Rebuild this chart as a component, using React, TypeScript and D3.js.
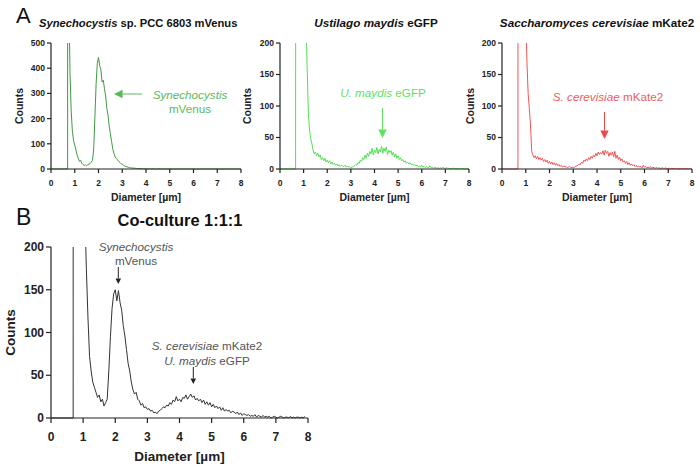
import React from "react";
import * as d3 from "d3";

// histogram bins: first bin centre and bin width, in µm
const binStart = 0.7;
const binStep = 0.05;
const diameterTicks = [0, 1, 2, 3, 4, 5, 6, 7, 8];
const countTicksA1 = [0, 100, 200, 300, 400, 500];
const countTicksSmall = [0, 50, 100, 150, 200];

// counts per bin (bins 0.70, 0.75, ... µm)
const synechocystisCounts = [
  3000, 700, 380, 230, 150, 112, 95, 75, 55, 42,
  30, 34, 22, 17, 14, 16, 13, 17, 19, 22,
  28, 35, 85, 210, 340, 420, 443, 410, 395, 345,
  352, 320, 290, 240, 215, 170, 140, 110, 80, 62,
  48, 42, 36, 30, 26, 21, 18, 15, 12, 10,
  9, 7, 6, 5, 4, 4, 3, 3, 2, 2,
  2, 1, 2, 1, 1, 1, 0, 1, 0, 1,
  0, 0, 1, 0, 0, 0, 0, 1, 0, 0,
  0, 0, 0, 0, 0, 0, 0, 0, 0, 0,
  0, 0, 0, 0, 0, 0, 0, 0, 0, 0,
  0, 0, 0, 0, 0, 0, 0, 0, 0, 0,
  0, 0, 0, 0, 0, 0, 0, 0, 0, 0,
  0, 0, 0, 0, 0, 0, 0, 0, 0, 0,
  0, 0, 0, 0, 0, 0, 0, 0, 0, 0,
  0, 0, 0, 0, 0, 0, 0,
];

const maydisCounts = [
  3000, 2600, 2000, 1500, 1000, 700, 450, 320, 240, 160,
  90, 62, 48, 40, 30, 24, 27, 21, 25, 19,
  22, 15, 18, 13, 17, 11, 14, 10, 13, 8,
  11, 7, 9, 6, 8, 5, 7, 4, 6, 5,
  4, 6, 3, 5, 3, 4, 2, 3, 4, 5,
  7, 6, 10, 9, 14, 12, 18, 15, 22, 17,
  25, 20, 28, 24, 33, 22, 30, 26, 34, 24,
  31, 27, 36, 25, 33, 28, 35, 23, 30, 26,
  29, 22, 27, 19, 24, 17, 21, 15, 18, 13,
  15, 11, 13, 9, 11, 8, 10, 7, 8, 6,
  7, 5, 6, 4, 5, 3, 6, 3, 4, 2,
  4, 2, 3, 5, 2, 3, 1, 3, 2, 1,
  2, 1, 2, 1, 3, 1, 1, 2, 1, 1,
  1, 0, 1, 1, 0, 1, 0, 1, 0, 1,
  0, 1, 0, 0, 1, 0, 0,
];

const cerevisiaeCounts = [
  3000, 2400, 1600, 1000, 600, 380, 240, 170, 120, 96,
  70, 28, 22, 18, 21, 16, 20, 15, 18, 14,
  17, 12, 15, 11, 14, 9, 12, 8, 11, 7,
  10, 6, 9, 5, 7, 4, 6, 3, 5, 3,
  4, 2, 3, 4, 2, 3, 2, 3, 4, 5,
  6, 8, 7, 11, 9, 14, 12, 16, 13, 18,
  15, 20, 17, 22, 19, 25, 21, 27, 23, 26,
  24, 29, 22, 30, 25, 28, 20, 26, 22, 27,
  19, 28, 17, 22, 15, 19, 13, 16, 11, 13,
  9, 12, 7, 10, 6, 8, 5, 7, 4, 6,
  3, 5, 3, 4, 2, 6, 3, 4, 2, 3,
  2, 4, 1, 3, 2, 1, 3, 1, 2, 1,
  1, 2, 1, 1, 2, 0, 1, 1, 0, 1,
  1, 0, 1, 0, 1, 0, 0, 1, 0, 1,
  0, 1, 0, 0, 1, 0, 0,
];

const cocultureCounts = [
  3000, 2500, 1800, 1200, 800, 520, 360, 250, 175, 118,
  72, 55, 42, 36, 30, 24, 27, 19, 22, 14,
  18, 22, 55, 95, 128, 145, 150, 137, 149, 135,
  126, 108, 96, 80, 64, 55, 42, 33, 28, 30,
  22, 20, 15, 17, 12, 13, 10, 11, 8, 9,
  6, 7, 5, 8, 9, 11, 13, 12, 15, 14,
  18, 16, 21, 19, 25, 20, 22, 19, 24, 23,
  27, 22, 25, 28, 24, 26, 21, 23, 20, 22,
  18, 21, 16, 19, 15, 18, 13, 16, 12, 14,
  11, 13, 9, 12, 8, 10, 8, 9, 6, 8,
  7, 5, 7, 4, 6, 3, 5, 4, 3, 4,
  2, 3, 2, 4, 1, 3, 2, 1, 3, 1,
  2, 1, 2, 0, 1, 2, 1, 0, 1, 2,
  1, 0, 1, 1, 0, 2, 0, 1, 0, 1,
  1, 0, 1, 0, 2,
];

const FONT = "'Liberation Sans', Arial, sans-serif";
const AXIS = "#222";

type PanelProps = {
  id: string;
  counts: number[];
  limit: number; // lower detection limit of the counter, µm
  color: string;
  yMax: number;
  yTicks: number[];
  left: number;
  right: number;
  top: number;
  bottom: number;
  tickFont: number;
  labelFont: number;
  tickLen: number;
  countsX: number;
  xLabelY: number;
  xTickY: number;
};

const Panel: React.FC<PanelProps> = (p) => {
  const x = d3.scaleLinear().domain([0, 8]).range([p.left, p.right]);
  const y = d3.scaleLinear().domain([0, p.yMax]).range([p.bottom, p.top]);
  const pts: [number, number][] = [[0, 0], [p.limit, 0]];
  p.counts.forEach((c, i) => pts.push([binStart + i * binStep, c]));
  const line = d3
    .line<[number, number]>()
    .x((d) => x(d[0]))
    .y((d) => y(d[1]));

  return (
    <g fontFamily={FONT}>
      <defs>
        <clipPath id={`clip-${p.id}`}>
          <rect x={p.left} y={p.top} width={p.right - p.left} height={p.bottom - p.top + 2} />
        </clipPath>
      </defs>
      <path
        d={line(pts) || ""}
        fill="none"
        stroke={p.color}
        strokeWidth={1}
        strokeLinejoin="round"
        clipPath={`url(#clip-${p.id})`}
      />
      {/* y axis */}
      <line x1={p.left} x2={p.left} y1={p.top} y2={p.bottom} stroke={AXIS} strokeWidth={1.2} />
      {p.yTicks.map((t) => (
        <g key={t}>
          <line x1={p.left - p.tickLen} x2={p.left} y1={y(t)} y2={y(t)} stroke={AXIS} strokeWidth={1.2} />
          <text
            x={p.left - p.tickLen - 2}
            y={y(t)}
            dy="0.35em"
            textAnchor="end"
            fontSize={p.tickFont}
            fontWeight="bold"
            fill={AXIS}
          >
            {t}
          </text>
        </g>
      ))}
      {/* x axis */}
      <line x1={p.left} x2={p.right} y1={p.bottom} y2={p.bottom} stroke={AXIS} strokeWidth={1.2} />
      {diameterTicks.map((t) => (
        <g key={t}>
          <line x1={x(t)} x2={x(t)} y1={p.bottom} y2={p.bottom + p.tickLen} stroke={AXIS} strokeWidth={1.2} />
          <text x={x(t)} y={p.xTickY} textAnchor="middle" fontSize={p.tickFont} fontWeight="bold" fill={AXIS}>
            {t}
          </text>
        </g>
      ))}
      <text
        x={(p.left + p.right) / 2}
        y={p.xLabelY}
        textAnchor="middle"
        fontSize={p.labelFont}
        fontWeight="bold"
        fill={AXIS}
      >
        Diameter [µm]
      </text>
      <text
        transform={`translate(${p.countsX},${(p.top + p.bottom) / 2}) rotate(-90)`}
        textAnchor="middle"
        dy="0.35em"
        fontSize={p.labelFont}
        fontWeight="bold"
        fill={AXIS}
      >
        Counts
      </text>
    </g>
  );
};

const Arrow: React.FC<{
  x1: number; y1: number; x2: number; y2: number; head: number; color: string;
}> = ({ x1, y1, x2, y2, head, color }) => {
  const ang = Math.atan2(y2 - y1, x2 - x1);
  const bx = x2 - Math.cos(ang) * head * 2;
  const by = y2 - Math.sin(ang) * head * 2;
  const nx = -Math.sin(ang) * head;
  const ny = Math.cos(ang) * head;
  return (
    <g>
      <line x1={x1} y1={y1} x2={bx} y2={by} stroke={color} strokeWidth={1} />
      <path d={`M${x2},${y2}L${bx + nx},${by + ny}L${bx - nx},${by - ny}Z`} fill={color} />
    </g>
  );
};

const smallPanel = {
  top: 43,
  bottom: 169,
  tickFont: 8.5,
  labelFont: 10.5,
  tickLen: 4,
  xTickY: 186,
  xLabelY: 201,
};

export default function App() {
  return (
    <svg
      width={700}
      height={470}
      style={{ position: "absolute", left: 0, top: 0, background: "#fff" }}
      fontFamily={FONT}
    >
      <text x={16} y={23} fontSize={22} fill="#111">A</text>
      <text x={16} y={225} fontSize={23} fill="#111">B</text>

      {/* A1 */}
      <text x={39} y={27} fontSize={11.2} fontWeight="bold" fill="#111">
        <tspan fontStyle="italic">Synechocystis</tspan> sp. PCC 6803 mVenus
      </text>
      <Panel
        id="a1"
        counts={synechocystisCounts}
        limit={0.7}
        color="#3f9b3f"
        yMax={500}
        yTicks={countTicksA1}
        left={51}
        right={241}
        countsX={19}
        {...smallPanel}
      />
      <text x={190} y={99} textAnchor="middle" fontSize={11.7} fill="#5cb85c">
        <tspan fontStyle="italic">Synechocystis</tspan>
        <tspan x={190} dy={13.5}>mVenus</tspan>
      </text>
      <Arrow x1={142} y1={94} x2={114} y2={94} head={4.3} color="#5cb85c" />

      {/* A2 */}
      <text x={376} y={27} textAnchor="middle" fontSize={11.7} fontWeight="bold" fill="#111">
        <tspan fontStyle="italic">Ustilago maydis</tspan> eGFP
      </text>
      <Panel
        id="a2"
        counts={maydisCounts}
        limit={0.66}
        color="#52e052"
        yMax={200}
        yTicks={countTicksSmall}
        left={280}
        right={469}
        countsX={247}
        {...smallPanel}
      />
      <text x={383} y={97} textAnchor="middle" fontSize={11.7} fill="#5ee25e">
        <tspan fontStyle="italic">U. maydis</tspan> eGFP
      </text>
      <Arrow x1={382.5} y1={108} x2={382.5} y2={138} head={4.2} color="#5ee25e" />

      {/* A3 */}
      <text x={597} y={27} textAnchor="middle" fontSize={11.7} fontWeight="bold" fill="#111">
        <tspan fontStyle="italic">Saccharomyces cerevisiae</tspan> mKate2
      </text>
      <Panel
        id="a3"
        counts={cerevisiaeCounts}
        limit={0.67}
        color="#f25555"
        yMax={200}
        yTicks={countTicksSmall}
        left={502}
        right={692}
        countsX={470}
        {...smallPanel}
      />
      <text x={608} y={101} textAnchor="middle" fontSize={11.7} fill="#f25c5c">
        <tspan fontStyle="italic">S. cerevisiae</tspan> mKate2
      </text>
      <Arrow x1={604.5} y1={112} x2={604.5} y2={139} head={4.2} color="#f04848" />

      {/* B */}
      <text x={180} y={226} textAnchor="middle" fontSize={16.4} fontWeight="bold" fill="#111">
        Co-culture 1:1:1
      </text>
      <Panel
        id="b"
        counts={cocultureCounts}
        limit={0.69}
        color="#333"
        yMax={200}
        yTicks={countTicksSmall}
        left={51}
        right={308}
        top={247}
        bottom={418}
        tickFont={12}
        labelFont={13.5}
        tickLen={5}
        countsX={10}
        xTickY={441}
        xLabelY={461}
      />
      <text x={136} y={251} textAnchor="middle" fontSize={11.7} fill="#555">
        <tspan fontStyle="italic">Synechocystis</tspan>
        <tspan x={136} dy={14}>mVenus</tspan>
      </text>
      <Arrow x1={118.3} y1={267} x2={118.3} y2={284} head={2.8} color="#222" />
      <text x={207} y={350} textAnchor="middle" fontSize={11.7} fill="#555">
        <tspan fontStyle="italic">S. cerevisiae</tspan> mKate2
      </text>
      <text x={207} y={365} textAnchor="middle" fontSize={11.7} fill="#555">
        <tspan fontStyle="italic">U. maydis</tspan> eGFP
      </text>
      <Arrow x1={193.3} y1={367} x2={193.3} y2={384} head={2.8} color="#222" />
    </svg>
  );
}
